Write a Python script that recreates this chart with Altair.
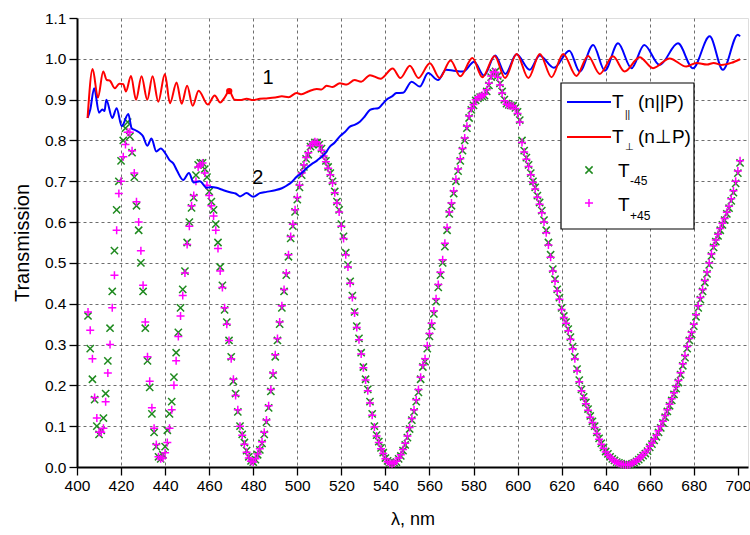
import altair as alt
import pandas as pd

# ---------------- data ----------------
wavelength = list(range(405, 702))  # sampling grid of the marker series, 1 nm

t_minus45 = [
    0.37, 0.29, 0.215, 0.165, 0.10, 0.08, 0.09, 0.12, 0.18, 0.26,            # 405-414
    0.34, 0.43, 0.53, 0.63, 0.70, 0.75, 0.80, 0.83, 0.845, 0.81,             # 415-424
    0.77, 0.71, 0.64, 0.58, 0.50, 0.43, 0.34, 0.26, 0.195, 0.13,             # 425-434
    0.085, 0.05, 0.025, 0.02, 0.03, 0.05, 0.09, 0.13, 0.16, 0.22,            # 435-444
    0.28, 0.33, 0.39, 0.435, 0.48, 0.55, 0.60, 0.635, 0.66, 0.715,           # 445-454
    0.74, 0.745, 0.745, 0.73, 0.71, 0.675, 0.65, 0.63, 0.595, 0.55,          # 455-464
    0.49, 0.445, 0.385, 0.355, 0.31, 0.27, 0.21, 0.18, 0.135, 0.10,          # 465-474
    0.08, 0.06, 0.04, 0.025, 0.015, 0.012, 0.018, 0.03, 0.042, 0.058,        # 475-484
    0.08, 0.11, 0.145, 0.185, 0.225, 0.27, 0.31, 0.35, 0.39, 0.43,           # 485-494
    0.47, 0.515, 0.56, 0.59, 0.625, 0.655, 0.685, 0.715, 0.735, 0.755,       # 495-504
    0.765, 0.785, 0.79, 0.795, 0.795, 0.79, 0.78, 0.765, 0.75, 0.735,        # 505-514
    0.72, 0.70, 0.675, 0.65, 0.63, 0.595, 0.565, 0.525, 0.495, 0.455,        # 515-524
    0.42, 0.38, 0.345, 0.315, 0.28, 0.245, 0.215, 0.19, 0.16, 0.13,          # 525-534
    0.10, 0.078, 0.062, 0.047, 0.035, 0.022, 0.015, 0.01, 0.008, 0.01,       # 535-544
    0.012, 0.02, 0.027, 0.04, 0.054, 0.072, 0.093, 0.115, 0.135, 0.16,       # 545-554
    0.183, 0.215, 0.245, 0.258, 0.29, 0.32, 0.345, 0.375, 0.405, 0.44,       # 555-564
    0.47, 0.50, 0.54, 0.58, 0.62, 0.64, 0.67, 0.70, 0.725, 0.75,             # 565-574
    0.775, 0.80, 0.83, 0.855, 0.875, 0.886, 0.898, 0.903, 0.906, 0.908,      # 575-584
    0.91, 0.92, 0.935, 0.955, 0.965, 0.969, 0.958, 0.94, 0.92, 0.90,         # 585-594
    0.89, 0.887, 0.886, 0.885, 0.88, 0.87, 0.85, 0.80, 0.775, 0.758,         # 595-604
    0.74, 0.72, 0.70, 0.685, 0.665, 0.648, 0.628, 0.605, 0.58, 0.55,         # 605-614
    0.52, 0.485, 0.46, 0.435, 0.415, 0.39, 0.37, 0.355, 0.338, 0.318,        # 615-624
    0.295, 0.27, 0.24, 0.213, 0.19, 0.172, 0.158, 0.142, 0.125, 0.112,       # 625-634
    0.10, 0.085, 0.07, 0.058, 0.048, 0.038, 0.032, 0.025, 0.02, 0.016,       # 635-644
    0.012, 0.01, 0.008, 0.006, 0.005, 0.005, 0.006, 0.008, 0.01, 0.014,      # 645-654
    0.018, 0.023, 0.028, 0.033, 0.039, 0.048, 0.056, 0.065, 0.074, 0.085,    # 655-664
    0.096, 0.108, 0.122, 0.136, 0.15, 0.163, 0.178, 0.192, 0.207, 0.226,     # 665-674
    0.248, 0.268, 0.29, 0.31, 0.325, 0.345, 0.368, 0.39, 0.41, 0.43,         # 675-684
    0.452, 0.473, 0.495, 0.517, 0.538, 0.552, 0.566, 0.58, 0.593, 0.605,     # 685-694
    0.62, 0.634, 0.652, 0.672, 0.695, 0.72, 0.745,                           # 695-701
]

t_plus45 = [
    0.38, 0.335, 0.265, 0.17, 0.12, 0.085, 0.085, 0.095, 0.16, 0.23,         # 405-414
    0.30, 0.39, 0.47, 0.58, 0.67, 0.70, 0.76, 0.79, 0.82, 0.82,              # 415-424
    0.775, 0.72, 0.65, 0.60, 0.53, 0.445, 0.355, 0.27, 0.21, 0.145,          # 425-434
    0.095, 0.055, 0.025, 0.02, 0.022, 0.035, 0.06, 0.095, 0.14, 0.20,        # 435-444
    0.26, 0.32, 0.37, 0.42, 0.475, 0.545, 0.59, 0.64, 0.665, 0.70,           # 445-454
    0.735, 0.74, 0.745, 0.72, 0.69, 0.665, 0.64, 0.615, 0.58, 0.535,         # 455-464
    0.48, 0.44, 0.39, 0.35, 0.31, 0.265, 0.215, 0.175, 0.14, 0.10,           # 465-474
    0.078, 0.056, 0.036, 0.022, 0.014, 0.012, 0.02, 0.032, 0.045, 0.062,     # 475-484
    0.085, 0.115, 0.15, 0.19, 0.23, 0.275, 0.315, 0.355, 0.395, 0.435,       # 485-494
    0.475, 0.52, 0.565, 0.595, 0.63, 0.66, 0.69, 0.72, 0.74, 0.758,         # 495-504
    0.77, 0.787, 0.792, 0.797, 0.795, 0.788, 0.776, 0.762, 0.748, 0.732,     # 505-514
    0.716, 0.696, 0.672, 0.647, 0.625, 0.59, 0.56, 0.52, 0.49, 0.45,         # 515-524
    0.415, 0.377, 0.342, 0.312, 0.277, 0.243, 0.213, 0.187, 0.157, 0.127,    # 525-534
    0.098, 0.076, 0.06, 0.045, 0.033, 0.02, 0.013, 0.009, 0.008, 0.01,       # 535-544
    0.014, 0.022, 0.03, 0.043, 0.058, 0.076, 0.097, 0.119, 0.14, 0.165,      # 545-554
    0.19, 0.22, 0.25, 0.265, 0.297, 0.327, 0.352, 0.382, 0.412, 0.447,       # 555-564
    0.477, 0.508, 0.548, 0.587, 0.625, 0.647, 0.676, 0.705, 0.73, 0.755,     # 565-574
    0.78, 0.806, 0.835, 0.86, 0.878, 0.888, 0.90, 0.905, 0.907, 0.91,        # 575-584
    0.913, 0.924, 0.94, 0.958, 0.968, 0.967, 0.955, 0.936, 0.916, 0.897,     # 585-594
    0.889, 0.886, 0.885, 0.884, 0.878, 0.866, 0.845, 0.795, 0.772, 0.754,    # 595-604
    0.736, 0.716, 0.697, 0.681, 0.661, 0.644, 0.623, 0.60, 0.574, 0.544,     # 605-614
    0.514, 0.48, 0.455, 0.431, 0.411, 0.386, 0.366, 0.352, 0.334, 0.313,     # 615-624
    0.29, 0.265, 0.236, 0.209, 0.187, 0.169, 0.155, 0.139, 0.122, 0.109,     # 625-634
    0.097, 0.082, 0.068, 0.056, 0.046, 0.037, 0.03, 0.024, 0.019, 0.015,     # 635-644
    0.011, 0.009, 0.007, 0.006, 0.005, 0.005, 0.006, 0.009, 0.012, 0.015,    # 645-654
    0.02, 0.025, 0.03, 0.036, 0.042, 0.051, 0.059, 0.068, 0.078, 0.089,      # 655-664
    0.10, 0.112, 0.126, 0.14, 0.154, 0.167, 0.182, 0.197, 0.212, 0.231,      # 665-674
    0.253, 0.273, 0.295, 0.315, 0.33, 0.35, 0.373, 0.395, 0.415, 0.435,      # 675-684
    0.457, 0.478, 0.50, 0.522, 0.542, 0.556, 0.57, 0.584, 0.597, 0.609,      # 685-694
    0.624, 0.639, 0.657, 0.677, 0.70, 0.725, 0.75,                           # 695-701
]

# T_perp (curve 1, red): turning points of the measured curve
red_wl = [404.8, 407.1, 409.5, 411.9, 413.5, 414.8, 417.2, 419.2, 421.0, 422.2,
          424.5, 426.8, 429.3, 431.9, 434.3, 436.9, 439.9, 442.2, 445.2, 447.5,
          450.0, 452.5, 455.2, 459.4, 462.5, 465.0, 467.0, 469.1, 471.5, 474.0,
          477.0, 480.0, 483.0, 486.0, 490.0, 493.0, 496.0, 499.7, 502.0, 505.0,
          508.8, 511.0, 513.3, 516.0, 519.3, 522.5, 526.0, 529.0, 533.0, 537.8,
          543.3, 546.8, 551.1, 555.0, 560.2, 564.6, 569.6, 574.0, 579.5, 584.0,
          589.6, 594.3, 599.6, 604.9, 610.1, 615.4, 620.7, 626.7, 632.0, 637.3,
          643.3, 648.6, 655.4, 661.5, 669.0, 676.6, 681.2, 686.0, 689.0, 692.5,
          697.0, 701.0]
red_t = [0.855, 0.975, 0.905, 0.969, 0.948, 0.947, 0.928, 0.939, 0.938, 0.920,
         0.958, 0.900, 0.957, 0.900, 0.957, 0.895, 0.963, 0.891, 0.942, 0.890,
         0.934, 0.885, 0.922, 0.888, 0.910, 0.893, 0.905, 0.921, 0.900, 0.899,
         0.902, 0.899, 0.902, 0.903, 0.905, 0.908, 0.906, 0.916, 0.913, 0.920,
         0.926, 0.925, 0.934, 0.931, 0.940, 0.937, 0.948, 0.944, 0.960, 0.951,
         0.976, 0.953, 0.983, 0.953, 0.989, 0.953, 0.996, 0.957, 1.002, 0.955,
         1.007, 0.953, 1.012, 0.953, 1.012, 0.955, 1.012, 0.958, 1.007, 0.963,
         1.006, 0.969, 1.004, 0.977, 1.001, 0.981, 0.990, 0.986, 0.990, 0.985,
         0.990, 0.999]

# T_parallel (curve 2, blue)
blue_wl = [404.8, 406.0, 407.8, 410.0, 411.5, 412.5, 413.3, 416.0, 418.0, 420.3,
           423.3, 424.8, 426.5, 428.6, 430.0, 431.9, 433.8, 436.0, 438.0, 440.5,
           442.0, 443.7, 445.5, 448.2, 450.8, 453.0, 455.8, 458.8, 461.0, 463.4,
           466.5, 469.5, 472.0, 474.0, 477.0, 480.0, 483.0, 486.0, 490.0, 493.0,
           495.1, 497.5, 499.7, 502.0, 504.2, 506.5, 508.8, 510.3, 512.5, 514.8,
           517.0, 519.3, 521.5, 523.9, 526.0, 528.4, 530.5, 533.0, 535.0, 536.7,
           538.5, 540.5, 543.0, 545.0, 548.0, 551.9, 555.6, 559.4, 563.9, 567.5,
           571.0, 575.3, 580.3, 584.7, 589.8, 594.5, 599.5, 605.5, 610.0, 616.5,
           623.5, 628.2, 634.3, 639.6, 645.6, 651.7, 657.5, 664.5, 672.8, 679.6,
           687.2, 693.2, 700.0, 701.0]
blue_t = [0.855, 0.875, 0.928, 0.868, 0.876, 0.872, 0.900, 0.855, 0.879, 0.835,
          0.865, 0.830, 0.825, 0.818, 0.810, 0.787, 0.805, 0.773, 0.780, 0.765,
          0.752, 0.744, 0.725, 0.703, 0.720, 0.697, 0.700, 0.684, 0.686, 0.684,
          0.678, 0.673, 0.670, 0.663, 0.671, 0.662, 0.671, 0.674, 0.678, 0.683,
          0.689, 0.698, 0.711, 0.720, 0.732, 0.742, 0.750, 0.757, 0.767, 0.785,
          0.795, 0.810, 0.820, 0.834, 0.838, 0.846, 0.858, 0.875, 0.878, 0.879,
          0.888, 0.900, 0.908, 0.916, 0.917, 0.944, 0.932, 0.965, 0.948, 0.973,
          0.971, 0.969, 0.993, 0.959, 1.008, 0.963, 1.011, 0.973, 1.008, 0.978,
          1.020, 0.969, 1.034, 0.971, 1.038, 0.977, 1.034, 0.985, 1.038, 0.977,
          1.055, 0.973, 1.059, 1.055]

marked_point = {"wl": [469.1], "t": [0.921]}
curve_labels = {"wl": [486.7, 482.1], "t": [0.953, 0.708], "txt": ["1", "2"]}

# ---------------- styling ----------------
FONT = "Liberation Sans"
X_DOMAIN = [400, 704.6]
Y_DOMAIN = [0, 1.1]
x_ticks = list(range(400, 701, 10))
y_ticks = [round(i * 0.05, 2) for i in range(23)]

X_SHAPE = "M-1,-1L1,1M-1,1L1,-1"
PLUS_SHAPE = "M-1,0L1,0M0,-1L0,1"
GREEN = "#1f8a1f"
MAGENTA = "#ff00ff"

x_axis = alt.Axis(
    values=x_ticks, format="d",
    labelExpr="datum.value % 20 == 0 ? datum.label : ''",
    title="λ, nm", titleFontSize=18, titleFont=FONT, titleFontWeight="normal",
    titlePadding=17, titleColor="black",
    labelFont=FONT, labelFontSize=15.5, labelColor="black", labelPadding=3,
    tickColor="black", tickWidth=1.3,
    tickSize={"condition": {"test": "datum.value % 20 == 0", "value": 8}, "value": 5},
    domainColor="black", domainWidth=2,
    grid=True, gridColor="#6e6e6e", gridDash=[3, 3], gridWidth=1,
    gridOpacity={"condition": {"test": "datum.value % 20 == 0 && datum.value > 400 && datum.value < 700", "value": 1}, "value": 0},
    labelFlush=False,
)
y_axis = alt.Axis(
    values=y_ticks,
    labelExpr="round(datum.value * 20) % 2 == 0 ? format(datum.value, '.1f') : ''",
    title="Transmission", titleFontSize=20, titleFont=FONT, titleFontWeight="normal",
    titlePadding=12, titleColor="black",
    labelFont=FONT, labelFontSize=15.5, labelColor="black", labelPadding=3,
    tickColor="black", tickWidth=1.3,
    tickSize={"condition": {"test": "round(datum.value * 20) % 2 == 0", "value": 8}, "value": 5},
    domainColor="black", domainWidth=2,
    grid=True, gridColor="#6e6e6e", gridDash=[3, 3], gridWidth=1,
    gridOpacity={"condition": {"test": "round(datum.value * 20) % 2 == 0 && datum.value > 0.01 && datum.value < 1.09", "value": 1}, "value": 0},
    labelFlush=False,
)

xs = alt.Scale(domain=X_DOMAIN, nice=False, zero=False)
ys = alt.Scale(domain=Y_DOMAIN, nice=False, zero=False)

m45 = pd.DataFrame({"wl": wavelength, "t": t_minus45})
p45 = pd.DataFrame({"wl": wavelength, "t": t_plus45})
red = pd.DataFrame({"wl": red_wl, "t": red_t})
blue = pd.DataFrame({"wl": blue_wl, "t": blue_t})

base_x = alt.X("wl:Q", scale=xs, axis=x_axis)
base_y = alt.Y("t:Q", scale=ys, axis=y_axis)

green_pts = alt.Chart(m45).mark_point(
    shape=X_SHAPE, filled=False, color=GREEN, strokeWidth=1.5, size=52, opacity=1
).encode(x=base_x, y=base_y)

magenta_pts = alt.Chart(p45).mark_point(
    shape=PLUS_SHAPE, filled=False, color=MAGENTA, strokeWidth=1.5, size=64, opacity=1
).encode(x=alt.X("wl:Q", scale=xs), y=alt.Y("t:Q", scale=ys))

blue_line = alt.Chart(blue).mark_line(
    color="#0000ff", strokeWidth=2, interpolate="monotone"
).encode(x=alt.X("wl:Q", scale=xs), y=alt.Y("t:Q", scale=ys))

red_line = alt.Chart(red).mark_line(
    color="#ff0000", strokeWidth=2, interpolate="monotone"
).encode(x=alt.X("wl:Q", scale=xs), y=alt.Y("t:Q", scale=ys))

dot = alt.Chart(pd.DataFrame(marked_point)).mark_circle(
    color="#ff0000", size=40, opacity=1
).encode(x=alt.X("wl:Q", scale=xs), y=alt.Y("t:Q", scale=ys))

labels = alt.Chart(pd.DataFrame(curve_labels)).mark_text(
    font=FONT, fontSize=20, color="black", align="center", baseline="middle"
).encode(x=alt.X("wl:Q", scale=xs), y=alt.Y("t:Q", scale=ys), text="txt:N")

# ---------------- legend (drawn by hand, for the subscripts) ----------------
one = pd.DataFrame({"k": [0]})
legend_box = alt.Chart(one).mark_rect(
    fill="white", stroke="black", strokeWidth=1.2
).encode(x=alt.value(484), x2=alt.value(617), y=alt.value(65), y2=alt.value(211))

blue_key = alt.Chart(one).mark_rule(color="#0000ff", strokeWidth=2).encode(
    x=alt.value(490), x2=alt.value(534), y=alt.value(84))
red_key = alt.Chart(one).mark_rule(color="#ff0000", strokeWidth=2).encode(
    x=alt.value(490), x2=alt.value(534), y=alt.value(119))
green_key = alt.Chart(one).mark_point(
    shape=X_SHAPE, filled=False, color=GREEN, strokeWidth=1.5, size=52, opacity=1
).encode(x=alt.value(512), y=alt.value(152))
magenta_key = alt.Chart(one).mark_point(
    shape=PLUS_SHAPE, filled=False, color=MAGENTA, strokeWidth=1.5, size=64, opacity=1
).encode(x=alt.value(512), y=alt.value(185))

def txt(s, x, y, size):
    return alt.Chart(one).mark_text(
        text=s, font=FONT, fontSize=size, color="black", align="left", baseline="alphabetic"
    ).encode(x=alt.value(x), y=alt.value(y))

legend_texts = [
    txt("T", 535, 90, 19), txt("||", 548, 100, 10), txt("(n||P)", 561, 90, 19),
    txt("T", 535, 125, 19), txt("⊥", 548, 132, 10), txt("(n⊥P)", 561, 125, 19),
    txt("T", 541, 159, 19), txt("-45", 553, 167, 12),
    txt("T", 541, 193, 19), txt("+45", 553, 202, 12),
]

chart = alt.layer(
    green_pts, magenta_pts, blue_line, red_line, dot, labels,
    legend_box, blue_key, red_key, green_key, magenta_key, *legend_texts
).properties(
    width=671, height=449,
    autosize=alt.AutoSizeParams(type="none"),
    padding={"left": 77, "top": 18, "right": 2, "bottom": 68},
).configure_view(
    stroke="black", strokeWidth=2
).configure(background="white")

chart.save("out.html", embed_options={"renderer": "svg", "actions": False})
